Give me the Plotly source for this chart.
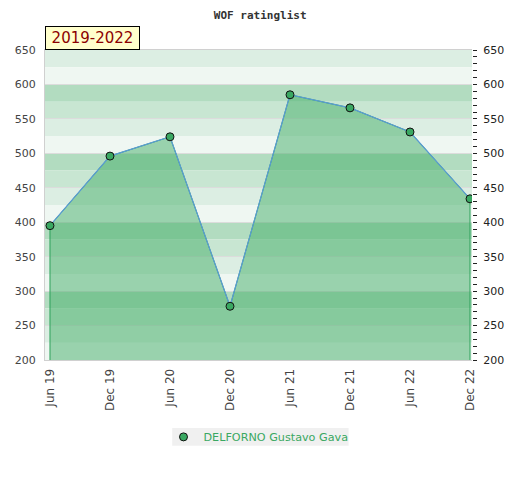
import plotly.graph_objects as go

periods = ["Jun 19", "Dec 19", "Jun 20", "Dec 20", "Jun 21", "Dec 21", "Jun 22", "Dec 22"]
ratings = [395, 496, 524, 278, 585, 566, 531, 434]
player = "DELFORNO Gustavo Gava"
period_label = "2019-2022"
y_min, y_max = 200, 650

band_colors = ["#b2dcc0", "#c8e6d2", "#dceee3", "#eff7f2"]

fig = go.Figure()

# background bands every 25 points
shapes = []
v = y_max
while v > y_min:
    idx = int(((700 - v) % 100) // 25)
    shapes.append(dict(type="rect", xref="paper", yref="y", x0=0, x1=1, y0=v - 25, y1=v,
                       fillcolor=band_colors[idx], line=dict(width=0), layer="below"))
    v -= 25

# legend background box
shapes.append(dict(type="rect", xref="paper", yref="paper", x0=0.298, x1=0.711,
                   y0=-0.277, y1=-0.219, fillcolor="#f0f0f0", line=dict(width=0), layer="below"))

# filled area (polygon closed at axis minimum)
fig.add_trace(go.Scatter(
    x=[periods[0]] + periods + [periods[-1]],
    y=[y_min] + ratings + [y_min],
    mode="lines", fill="toself", fillcolor="rgba(68,174,104,0.5)",
    line=dict(color="#2ca05a", width=1), hoverinfo="skip", showlegend=False))

fig.add_trace(go.Scatter(
    x=periods, y=ratings, mode="lines",
    line=dict(color="#5b9bd5", width=1.2), showlegend=False, hoverinfo="skip"))

fig.add_trace(go.Scatter(
    x=periods, y=ratings, mode="markers", name=player,
    marker=dict(color="#3aa862", size=8, line=dict(color="#111", width=1))))

fig.add_trace(go.Scatter(x=periods, y=ratings, yaxis="y2", mode="markers",
                         marker=dict(opacity=0), showlegend=False, hoverinfo="skip"))

fig.update_layout(
    width=520, height=480,
    margin=dict(l=37, r=56, t=42, b=128, autoexpand=False),
    paper_bgcolor="white", plot_bgcolor="white",
    font=dict(family="DejaVu Sans", size=11, color="#444"),
    title=dict(text="<b>WOF ratinglist</b>", x=0.485, xref="container", xanchor="center",
               y=0.993, yref="container", yanchor="top",
               font=dict(family="DejaVu Sans Mono", size=11, color="#333")),
    shapes=shapes,
    xaxis=dict(type="category", range=[-0.083, 7.033], tickangle=-90, showgrid=False,
               showline=True, linecolor="#d0d0d0", mirror=True, ticks="", automargin=False,
               ticklabelstandoff=3,
               tickfont=dict(size=12, color="#444"), zeroline=False),
    yaxis=dict(range=[y_min, y_max], tickvals=list(range(200, 651, 50)), showgrid=True,
               gridcolor="#dcdcdc", gridwidth=1, showline=True, linecolor="#d0d0d0",
               ticks="", automargin=False, ticklabelstandoff=6,
               tickfont=dict(size=11, color="#444"), zeroline=False),
    yaxis2=dict(range=[y_min, y_max], overlaying="y", side="right", automargin=False,
                tickvals=list(range(200, 651, 50)), showgrid=False, ticks="outside",
                ticklen=4, tickcolor="#222", tickfont=dict(size=11, color="#222"),
                ticklabelstandoff=4,
                minor=dict(ticks="outside", ticklen=4, tickcolor="#222", dtick=10, showgrid=False),
                zeroline=False, showline=False),
    legend=dict(orientation="h", x=0.5, xanchor="center", y=-0.248, yanchor="middle",
                bgcolor="rgba(0,0,0,0)", font=dict(size=11.2, color="#3aa862"),
                itemwidth=30, tracegroupgap=0),
    annotations=[dict(text=period_label, xref="paper", yref="paper", x=0, y=1,
                      xanchor="left", yanchor="bottom", showarrow=False, width=89, height=18,
                      font=dict(family="DejaVu Sans", size=15, color="#8b0000"),
                      bgcolor="#ffffcc", bordercolor="#000", borderwidth=1, borderpad=2)],
)

fig.write_html("out.html")
